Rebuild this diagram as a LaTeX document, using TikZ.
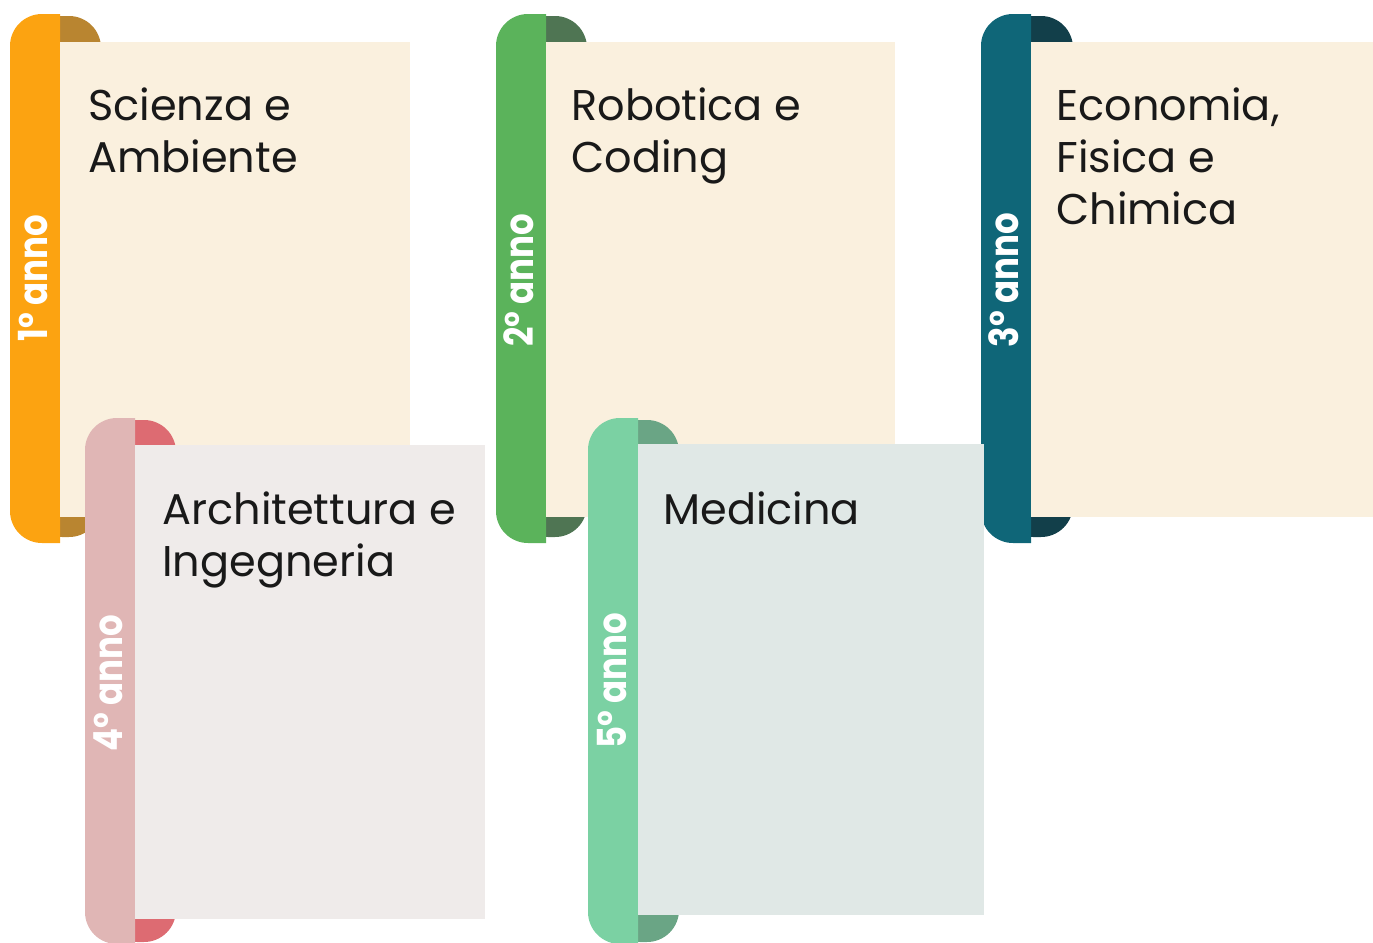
\documentclass[tikz,border=0pt]{standalone}
\usepackage{fontspec}
\setmainfont{Poppins}
\usepackage{tikz}
\usetikzlibrary{positioning}

\definecolor{cream}{HTML}{FAF0DE}
\definecolor{greycard}{HTML}{EFEBEA}
\definecolor{bluecard}{HTML}{E0E8E6}
\definecolor{orangetab}{HTML}{FCA311}
\definecolor{orangecurl}{HTML}{B98530}
\definecolor{greentab}{HTML}{5BB35B}
\definecolor{greencurl}{HTML}{4F7553}
\definecolor{tealtab}{HTML}{0F6678}
\definecolor{tealcurl}{HTML}{123F4A}
\definecolor{pinktab}{HTML}{E0B6B5}
\definecolor{pinkcurl}{HTML}{DD6B72}
\definecolor{minttab}{HTML}{7BD1A3}
\definecolor{mintcurl}{HTML}{6AA585}

\begin{document}
\begin{tikzpicture}[x=0.5pt, y=-0.5pt,
  cardtitle/.style={anchor=north west, inner sep=0pt, align=left, text=black!90, font=\fontsize{21.5}{26}\selectfont},
  yearlabel/.style={rotate=90, inner sep=0pt, text=white, font=\bfseries\fontsize{20}{24}\selectfont},
  curl/.style={rounded corners=16pt}, tab/.style={rounded corners=16pt}]
  \useasboundingbox (0,0) rectangle (1373,943);

  % 1st year
  \fill[curl, orangecurl] (30,16) rectangle (101,537);
  \fill[tab, orangetab] (60,14) -- (10,14) -- (10,543) -- (60,543);
  \fill[cream] (60,42) rectangle (410,517);
  \node[yearlabel] (anno1) at (33,278) {\scalebox{0.85}[1]{1° anno}};
  \node[cardtitle] (scienza) at (88,87) {Scienza e\\Ambiente};

  % 2nd year
  \fill[curl, greencurl] (516,16) rectangle (587,537);
  \fill[tab, greentab] (546,14) -- (496,14) -- (496,543) -- (546,543);
  \fill[cream] (546,42) rectangle (895,517);
  \node[yearlabel] (anno2) at (519,280) {\scalebox{0.85}[1]{2° anno}};
  \node[cardtitle] (robotica) at (571,87) {Robotica e\\Coding};

  % 3rd year
  \fill[curl, tealcurl] (1001,16) rectangle (1073,537);
  \fill[tab, tealtab] (1031,14) -- (981,14) -- (981,543) -- (1031,543);
  \fill[cream] (1031,42) rectangle (1373,517);
  \node[yearlabel] (anno3) at (1004,280) {\scalebox{0.85}[1]{3° anno}};
  \node[cardtitle] (economia) at (1056,87) {Economia,\\Fisica e\\Chimica};

  % 4th year
  \fill[curl, pinkcurl] (105,420) rectangle (176,942);
  \fill[tab, pinktab] (135,418) -- (85,418) -- (85,944) -- (135,944);
  \fill[greycard] (135,445) rectangle (485,919);
  \node[yearlabel] (anno4) at (108,683) {\scalebox{0.85}[1]{4° anno}};
  \node[cardtitle] (architettura) at (162,491) {Architettura e\\Ingegneria};

  % 5th year
  \fill[curl, mintcurl] (608,420) rectangle (679,942);
  \fill[tab, minttab] (638,418) -- (588,418) -- (588,944) -- (638,944);
  \fill[bluecard] (638,444) rectangle (984,915);
  \node[yearlabel] (anno5) at (612,681) {\scalebox{0.85}[1]{5° anno}};
  \node[cardtitle] (medicina) at (663,491) {Medicina};
\end{tikzpicture}
\end{document}
